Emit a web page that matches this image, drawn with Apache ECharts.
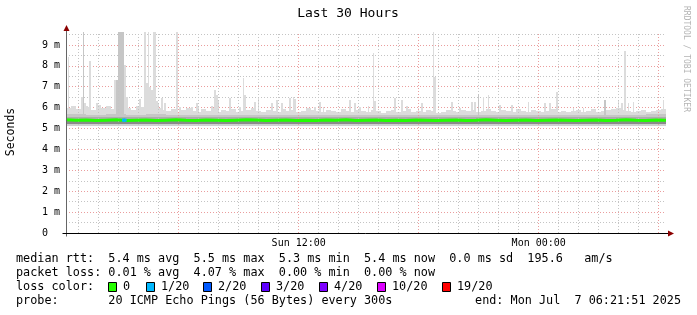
<!DOCTYPE html>
<html><head><meta charset="utf-8">
<script src="https://cdn.jsdelivr.net/npm/echarts@6/dist/echarts.min.js"></script>
<style>html,body{margin:0;padding:0;background:#fff}#c{width:697px;height:315px}</style>
</head><body><div id="c"></div>
<script>
// ---- time frame (hours since Sun 00:00) ----
const startHour = 0.36417;          // Sun 00:21:51
const spanHours = 30;
const stepMinutes = 5;
const slotCount = 360;

// ---- x tick labels ----
const labelHours = [12, 24];
const labelTexts = ['Sun 12:00', 'Mon 00:00'];
const gridHours = [1,2,3,4,5,6,7,8,9,10,11,12,13,14,15,16,17,18,19,20,21,22,23,24,25,26,27,28,29,30];
const majorGridHours = [6, 12, 18, 24, 30];

// ---- smoke (ms) ----
const smokeLow2h  = [5.12,5.11,5.12,5.13,5.12,5.11,5.12,5.12,5.13,5.12,5.11,5.12,5.12,5.12,5.13];
const bandLow2h   = [5.22,5.21,5.22,5.23,5.22,5.22,5.23,5.22,5.23,5.22,5.22,5.23,5.22,5.23,5.22];
const darkHigh2h  = [5.36,5.35,5.36,5.36,5.35,5.36,5.36,5.35,5.36,5.36,5.35,5.36,5.36,5.35,5.36];
const bandHigh2h  = [5.55,5.56,5.55,5.54,5.55,5.54,5.55,5.55,5.54,5.55,5.54,5.55,5.55,5.54,5.56];
const midHighHourly = [5.68,5.66,5.70,5.66,5.68,5.65,5.66,5.64,5.66,5.65,5.64,5.66,5.65,5.64,5.65,
                       5.66,5.64,5.65,5.66,5.64,5.65,5.64,5.66,5.65,5.64,5.65,5.66,5.65,5.64,5.68];
const smokeTopQuarter = [6.00,6.10,5.95,6.20,6.05,5.90,6.15,6.00,6.10,5.95, 6.05,6.20,6.00,5.90,6.10,6.05,5.95,6.15,6.00,5.90,
                         5.85,5.95,5.80,5.90,6.00,5.85,5.80,5.95,5.85,5.90, 5.80,5.90,5.85,5.95,5.80,5.85,5.90,6.00,5.85,5.80,
                         5.90,5.85,5.80,5.95,5.85,5.90,5.80,5.85,6.00,5.90, 5.85,5.80,5.90,5.85,5.80,5.95,5.85,5.80,5.90,5.85,
                         5.80,5.90,5.85,5.75,5.85,5.90,5.80,5.85,5.95,5.80, 5.85,5.80,5.90,5.85,5.75,5.80,5.90,5.85,5.80,5.90,
                         5.85,5.90,5.80,5.85,5.95,5.85,5.80,5.90,5.85,5.80, 5.95,5.85,5.80,5.90,5.85,5.80,5.85,5.95,5.80,5.85,
                         5.80,5.85,5.90,5.80,5.85,5.95,5.80,5.85,5.90,5.95, 6.00,5.90,5.85,5.80,5.85,5.90,5.80,5.85,5.90,5.95];
// light-grey spikes: 5-minute slot index and top value
const spikeSlots = [1,9,11,12,14,18,20,25,29,35,36,44,47,48,49,50,51,52,53,54,55,57,59,66,68,75,78,79,87,88,
                    89,90,91,98,104,106,107,113,115,123,126,129,134,136,137,149,152,154,170,173,176,181,184,185,
                    197,201,204,211,213,220,221,231,236,243,245,250,253,260,267,277,287,290,294,304,310,331,333,
                    335,337,340,358];
const spikeTops  = [8.40,6.50,6.15,6.10,8.23,6.20,6.05,6.05,7.32,8.04,6.50,6.40,9.80,7.20,9.80,7.00,6.85,9.80,9.80,6.30,6.20,6.45,6.20,9.80,6.05,6.05,6.20,6.10,6.10,6.00,
                    6.84,6.60,6.37,6.45,6.05,7.44,6.61,6.29,6.45,6.21,6.37,6.21,6.45,6.53,6.40,6.05,6.29,6.05,6.35,6.21,6.05,6.10,8.60,6.30,
                    6.45,6.35,6.10,5.97,6.20,9.80,7.45,6.29,5.97,6.25,6.29,6.53,6.61,6.13,6.13,6.29,6.21,6.21,6.77,5.97,5.97,6.37,6.21,
                    8.70,6.21,6.29,6.37];
// darker (many pings high) spikes
const darkSpikeSlots = [10,30,31,32,33,34,247,323];
const darkSpikeTops  = [9.80,7.30,9.80,9.80,9.80,9.80,6.60,6.37];

// ---- median rtt (ms), every 30 minutes from start ----
const median = [5.42,5.40,5.41,5.38,5.40,5.42,5.39,5.40,5.41,5.38, 5.40,5.42,5.40,5.39,5.41,5.40,5.38,5.40,5.42,5.41,
                5.39,5.40,5.41,5.38,5.40,5.39,5.41,5.40,5.42,5.39, 5.40,5.41,5.38,5.40,5.39,5.41,5.40,5.38,5.40,5.41,
                5.39,5.40,5.42,5.40,5.38,5.40,5.41,5.39,5.40,5.41, 5.40,5.38,5.40,5.41,5.39,5.40,5.42,5.40,5.39,5.41,5.40];
const lossSlots = [34, 35];   // slots with 1/20 loss
const lossMedian = [5.40, 5.40];

// ---- legend ----
const legendRow1 = 'median rtt:  5.4 ms avg  5.5 ms max  5.3 ms min  5.4 ms now  0.0 ms sd  195.6   am/s';
const legendRow2 = 'packet loss: 0.01 % avg  4.07 % max  0.00 % min  0.00 % now';
const legendRow3 = 'loss color:';
const lossLabels = ['0', '1/20', '2/20', '3/20', '4/20', '10/20', '19/20'];
const lossColors = ['#26ff00', '#00b8ff', '#0059ff', '#5e00ff', '#7e00ff', '#dd00ff', '#ff0000'];
const legendRow4a = 'probe:       20 ICMP Echo Pings (56 Bytes) every 300s';
const legendRow4b = 'end: Mon Jul  7 06:21:51 2025';

// ---- build smoke table: [x, low, bandLow, darkHigh, bandHigh, midHigh, top] ----
const spikeMap = {}; spikeSlots.forEach((s, k) => spikeMap[s] = spikeTops[k]);
const darkMap = {}; darkSpikeSlots.forEach((s, k) => darkMap[s] = darkSpikeTops[k]);
const stepH = stepMinutes / 60;
const smokeData = [];
for (let i = 0; i < slotCount; i++) {
  const x = startHour + (i + 0.5) * stepH;
  const j = Math.floor(i / 24);
  let mh = midHighHourly[Math.floor(i / 12)];
  let tp = smokeTopQuarter[Math.floor(i / 3)];
  if (darkMap[i] !== undefined) mh = Math.max(mh, darkMap[i]);
  if (spikeMap[i] !== undefined) tp = Math.max(tp, spikeMap[i]);
  tp = Math.max(tp, mh);
  smokeData.push([x, smokeLow2h[j], bandLow2h[j], darkHigh2h[j], bandHigh2h[j], mh, tp]);
}
const medianData = median.map((v, k) => [startHour + k * 0.5, v]);
const lossData = lossSlots.map((s, k) => [startHour + (s + 0.5) * stepH, lossMedian[k]]);

const MONO = '"DejaVu Sans Mono", monospace';
const minorGridColor = '#c4c4c4';
const majorGridColor = '#ea9d9d';
const layerColors = ['#d0d0d0', '#8a8a8a', '#acacac', '#c6c6c6', '#dcdcdc'];

function renderSmoke(params, api) {
  const x = api.value(0);
  const x0 = Math.round(api.coord([x - stepH / 2, 0])[0]);
  const x1 = Math.round(api.coord([x + stepH / 2, 0])[0]);
  const cs = params.coordSys;
  const children = [];
  for (let k = 0; k < 5; k++) {
    const lo = api.value(1 + k), hi = api.value(2 + k);
    if (hi <= lo) continue;
    const yLo = Math.round(api.coord([x, lo])[1]);
    const yHi = Math.round(api.coord([x, hi])[1]);
    const rect = echarts.graphic.clipRectByRect({ x: x0, y: yHi, width: x1 - x0, height: yLo - yHi },
                                                { x: cs.x, y: cs.y, width: cs.width, height: cs.height });
    if (rect) children.push({ type: 'rect', shape: rect, style: { fill: layerColors[k] } });
  }
  return { type: 'group', children };
}

const chart = echarts.init(document.getElementById('c'), null, { renderer: 'canvas' });
const option = {
  animation: false,
  backgroundColor: '#ffffff',
  grid: { left: 66, top: 32, width: 600, height: 201 },
  xAxis: {
    type: 'value', min: startHour, max: startHour + spanHours,
    axisLine: { show: false }, splitLine: { show: false },
    axisTick: { show: false },
    axisLabel: { customValues: labelHours, formatter: v => labelTexts[labelHours.indexOf(v)] || '',
                 fontFamily: MONO, fontSize: 10, color: '#000', margin: 5 }
  },
  yAxis: {
    type: 'value', min: 0, max: 9.62, interval: 0.5,
    axisLine: { show: false }, axisTick: { show: false },
    splitLine: { show: true, showMaxLine: false, lineStyle: { color: [majorGridColor, minorGridColor], type: [1, 2], width: 1 } },
    axisLabel: { fontFamily: MONO, fontSize: 10, color: '#000', margin: 6,
                 formatter: v => (Math.abs(v - Math.round(v)) < 1e-9 && v <= 9) ? (v === 0 ? '0  ' : Math.round(v) + ' m') : '' }
  },
  series: [
    { name: 'smoke', type: 'custom', data: smokeData, renderItem: renderSmoke, encode: { x: 0, y: [1, 6] }, silent: true, z: 2 },
    { name: 'grid', type: 'line', data: [], z: 4, silent: true,
      markLine: { silent: true, symbol: 'none', label: { show: false }, animation: false,
        data: gridHours.map(h => ({ xAxis: h, lineStyle: { color: majorGridHours.includes(h) ? majorGridColor : minorGridColor, type: [1, 2], width: 1 } })) } },
    { name: 'median', type: 'line', data: medianData, symbol: 'none', lineStyle: { color: '#22ff00', width: 3 }, z: 8, silent: true },
    { name: 'loss', type: 'line', data: lossData, symbol: 'rect', symbolSize: [3, 3], itemStyle: { color: '#00b8ff' }, lineStyle: { color: '#00b8ff', width: 3 }, z: 9, silent: true }
  ]
};
chart.setOption(option);

// ---- axes, arrows, texts ----
const p00 = chart.convertToPixel({ gridIndex: 0 }, [startHour, 0]);
const pEnd = chart.convertToPixel({ gridIndex: 0 }, [startHour + spanHours, 9.62]);
const ax = Math.round(p00[0]) + 0.5, ay = Math.round(p00[1]) + 0.5;
const right = pEnd[0], topY = pEnd[1];
const g = [];
g.push({ type: 'line', shape: { x1: ax, y1: ay + 3, x2: ax, y2: topY - 1 }, style: { stroke: '#666', lineWidth: 1 }, z: 10 });
g.push({ type: 'line', shape: { x1: ax - 4, y1: ay, x2: right + 2, y2: ay }, style: { stroke: '#000', lineWidth: 1 }, z: 10 });
g.push({ type: 'polygon', shape: { points: [[ax - 3, topY - 1], [ax + 3, topY - 1], [ax, topY - 7]] }, style: { fill: '#8b0000' }, z: 11 });
g.push({ type: 'polygon', shape: { points: [[right + 2, ay - 3], [right + 2, ay + 3], [right + 8, ay]] }, style: { fill: '#8b0000' }, z: 11 });
g.push({ type: 'text', x: 348, y: 14, style: { text: 'Last 30 Hours', font: '13px ' + MONO, fill: '#000', align: 'center', verticalAlign: 'middle' } });
g.push({ type: 'text', x: 11, y: 132, rotation: Math.PI / 2, style: { text: 'Seconds', font: '11.5px ' + MONO, fill: '#000', align: 'center', verticalAlign: 'middle' } });
g.push({ type: 'text', x: 686, y: 59, rotation: -Math.PI / 2, style: { text: 'RRDTOOL / TOBI OETIKER', font: '8px ' + MONO, fill: '#b4b4b4', align: 'center', verticalAlign: 'middle' } });
const LF = '11.8px ' + MONO;
g.push({ type: 'text', x: 16, y: 259, style: { text: legendRow1, font: LF, fill: '#000', verticalAlign: 'middle' } });
g.push({ type: 'text', x: 16, y: 273, style: { text: legendRow2, font: LF, fill: '#000', verticalAlign: 'middle' } });
g.push({ type: 'text', x: 16, y: 287, style: { text: legendRow3, font: LF, fill: '#000', verticalAlign: 'middle' } });
const boxX = [108, 145.7, 202.7, 261, 319.3, 377.3, 442.3];
lossLabels.forEach((lab, k) => {
  g.push({ type: 'rect', shape: { x: Math.round(boxX[k]) + 0.5, y: 282.5, width: 8, height: 9 }, style: { fill: lossColors[k], stroke: '#000', lineWidth: 1 } });
  g.push({ type: 'text', x: Math.round(boxX[k]) + 15, y: 287, style: { text: lab, font: LF, fill: '#000', verticalAlign: 'middle' } });
});
g.push({ type: 'text', x: 16, y: 301, style: { text: legendRow4a, font: LF, fill: '#000', verticalAlign: 'middle' } });
g.push({ type: 'text', x: 681, y: 301, style: { text: legendRow4b, font: LF, fill: '#000', align: 'right', verticalAlign: 'middle' } });
chart.setOption({ graphic: g });
</script>
</body></html>
